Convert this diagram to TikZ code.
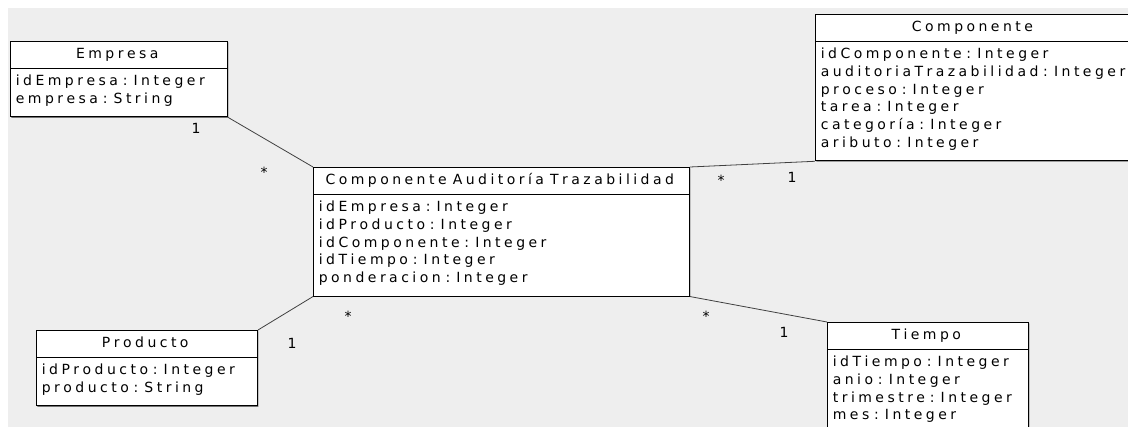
\documentclass[tikz,border=0pt]{standalone}
\usepackage{fontspec}
\setmainfont{DejaVu Sans}
\usetikzlibrary{shapes.multipart,shadows,calc}
\definecolor{canvas}{HTML}{EEEEEE}
\newlength{\trkgap}\setlength{\trkgap}{2.6pt}
\def\trk#1{\trkloop#1\relax}
\def\trkloop#1{\ifx\relax#1\else#1\kern\trkgap\expandafter\trkloop\fi}
\newcommand{\wsp}{\hspace{2pt}}
\newcommand{\hd}[1]{\strut\hfill #1\hfill\null}
\newcommand{\attr}[2]{\mbox{\trk{#1}\hspace{1pt}\trk{:}\hspace{2pt}\trk{#2}}}
\newcommand{\lastpad}{\rule[-6.7pt]{0pt}{6.7pt}}

\begin{document}
\begin{tikzpicture}[
  x=0.75pt, y=-0.75pt,
  font=\fontsize{10.5}{13.3}\selectfont,
  cls/.style={rectangle split, rectangle split parts=2, draw, line width=0.75pt, fill=white,
    text width=#1, inner xsep=4pt, inner ysep=3.1pt, anchor=north west,
    drop shadow={shadow xshift=0.7pt, shadow yshift=-0.7pt, fill=black!55, opacity=1}},
  assoc/.style={draw=black!75, line width=0.6pt},
  mult/.style={inner sep=0pt}
]
\useasboundingbox (0,0) rectangle (1128,427);
\clip (0,0) rectangle (1128,427);
\fill[white] (0,0) rectangle (1128,427);
\fill[canvas] (8,8) rectangle (1128,427);

% classes
\node[cls=154.75pt] (emp) at (10,41)
  {\hd{\trk{Empresa}}\nodepart{two}\strut\attr{idEmpresa}{Integer}\\\attr{empresa}{String}\lastpad};
\node[cls=274pt] (cat) at (313,167)
  {\hd{\trk{Componente}\wsp\trk{Auditoría}\wsp\trk{Trazabilidad}}\nodepart{two}\strut\attr{idEmpresa}{Integer}\\\attr{idProducto}{Integer}\\\attr{idComponente}{Integer}\\\attr{idTiempo}{Integer}\\\attr{ponderacion}{Integer}\lastpad};
\node[cls=250pt] (comp) at (815,14)
  {\hd{\hspace*{-20pt}\trk{Componente}}\nodepart{two}\strut\attr{idComponente}{Integer}\\\attr{auditoriaTrazabilidad}{Integer}\\\attr{proceso}{Integer}\\\attr{tarea}{Integer}\\\attr{categoría}{Integer}\\\attr{aributo}{Integer}\lastpad};
\node[cls=157.75pt] (prod) at (36,330)
  {\hd{\trk{Producto}}\nodepart{two}\strut\attr{idProducto}{Integer}\\\attr{producto}{String}\lastpad};
\node[cls=142.75pt] (tiem) at (827,322)
  {\hd{\trk{Tiempo}}\nodepart{two}\strut\attr{idTiempo}{Integer}\\\attr{anio}{Integer}\\\attr{trimestre}{Integer}\\\attr{mes}{Integer}\lastpad};

% associations
\draw[assoc] (emp.south east) -- (cat.north west);
\draw[assoc] (cat.north east) -- (comp.south west);
\draw[assoc] (prod.north east) -- (cat.south west);
\draw[assoc] (cat.south east) -- (tiem.north west);

% multiplicities
\node[mult] (m1) at ($(emp.south east)+(-32,11)$) {1};
\node[mult] (m2) at ($(cat.north west)+(-49,5)$) {*};
\node[mult] (m3) at ($(cat.north east)+(31,13)$) {*};
\node[mult] (m4) at ($(comp.south west)+(-23,16)$) {1};
\node[mult] (m5) at ($(cat.south west)+(35,20)$) {*};
\node[mult] (m6) at ($(prod.north east)+(34,13)$) {1};
\node[mult] (m7) at ($(cat.south east)+(16,20)$) {*};
\node[mult] (m8) at ($(tiem.north west)+(-43,10)$) {1};
\end{tikzpicture}
\end{document}
